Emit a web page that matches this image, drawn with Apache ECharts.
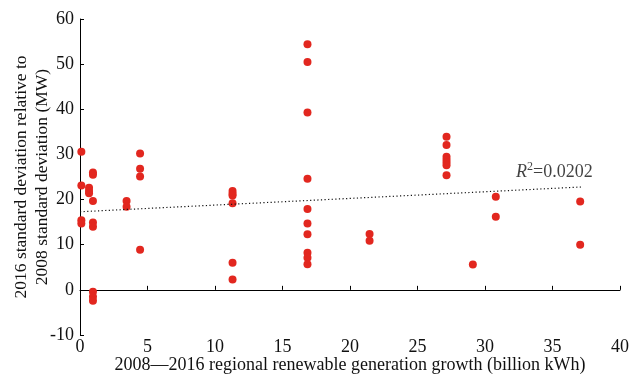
<!DOCTYPE html>
<html><head><meta charset="utf-8">
<script src="https://cdn.jsdelivr.net/npm/echarts@6/dist/echarts.min.js"></script>
<style>html,body{margin:0;padding:0;background:#fff}#c{width:629px;height:376px}</style>
</head><body><div id="c"></div>
<script>
// Growth (billion kWh) per point
const xVals = [
  0.1,0.1,0.1,0.1,
  0.67,0.67,0.67,
  0.96,0.96,0.96,0.96,0.96,0.96,0.96,0.96,
  3.45,3.45,
  4.45,4.45,4.45,4.45,
  11.3,11.3,11.3,11.3,11.3,11.3,
  16.85,16.85,16.85,16.85,16.85,16.85,16.85,16.85,16.85,16.85,
  21.45,21.45,
  27.15,27.15,27.15,27.15,27.15,27.15,27.15,
  29.1,
  30.8,30.8,
  37.05,37.05
];
// Std deviation difference (MW) per point
const yVals = [
  30.6,23.1,15.4,14.7,
  22.6,21.9,21.4,
  26.0,25.5,19.7,14.9,14.0,-0.4,-1.5,-2.4,
  19.7,18.4,
  30.2,26.8,25.1,8.9,
  21.9,21.3,20.9,19.2,6.0,2.3,
  54.4,50.5,39.3,24.6,17.9,14.7,12.3,8.2,7.1,5.7,
  12.4,10.9,
  33.9,32.1,29.5,28.8,28.2,27.6,25.4,
  5.6,
  20.6,16.2,
  19.6,10.0
];
// Linear fit endpoints
const fitX = [0, 37.2];
const fitY = [17.3, 22.8];
const r2Pos = [32.3, 26.1];
const xTicks = [0,5,10,15,20,25,30,35,40];
const yTicks = [-10,0,10,20,30,40,50,60];

const serif = '"Liberation Serif","DejaVu Serif",serif';
const pts = xVals.map((x,i)=>[x,yVals[i]]);
const chart = echarts.init(document.getElementById('c'));
chart.setOption({
  animation:false,
  grid:{left:80,right:9,top:19,bottom:41,containLabel:false,outerBoundsMode:'none'},
  xAxis:{type:'value',min:xTicks[0],max:xTicks[xTicks.length-1],interval:5,
    name:'2008\u20142016 regional renewable generation growth (billion kWh)',
    nameLocation:'middle',nameGap:21,nameMoveOverlap:false,
    nameTextStyle:{fontFamily:serif,fontSize:18,color:'#111'},
    axisLine:{lineStyle:{color:'#000',width:1}},
    axisTick:{inside:true,length:4,lineStyle:{color:'#000'}},
    axisLabel:{fontFamily:serif,fontSize:18,color:'#111',margin:3},
    splitLine:{show:false}},
  yAxis:{type:'value',min:yTicks[0],max:yTicks[yTicks.length-1],interval:10,
    name:'2016 standard deviation relative to\n2008 standard deviation (MW)',
    nameLocation:'middle',nameGap:27,nameRotate:90,nameMoveOverlap:false,
    nameTextStyle:{fontFamily:serif,fontSize:17.5,color:'#111',lineHeight:21,align:'center'},
    axisLine:{show:true,lineStyle:{color:'#000',width:1}},
    axisTick:{show:true,inside:true,length:4,lineStyle:{color:'#000'}},
    axisLabel:{fontFamily:serif,fontSize:18,color:'#111',margin:6},
    splitLine:{show:false}},
  series:[
    {type:'scatter',data:pts,symbolSize:8,itemStyle:{color:'#e2271f',opacity:1}},
    {type:'line',data:fitX.map((x,i)=>[x,fitY[i]]),symbol:'none',
      lineStyle:{color:'#111',width:1.2,type:[1.2,2.4]}},
    {type:'scatter',data:[r2Pos],symbolSize:0,silent:true,
      label:{show:true,position:'right',distance:0,
        formatter:'{i|R}{s|2}{n|=0.0202}',
        rich:{i:{fontFamily:serif,fontSize:18,fontStyle:'italic',color:'#111'},
              s:{fontFamily:serif,fontSize:12,color:'#111',padding:[0,0,10,0]},
              n:{fontFamily:serif,fontSize:18,color:'#111'}}}}
  ]
});
</script></body></html>
